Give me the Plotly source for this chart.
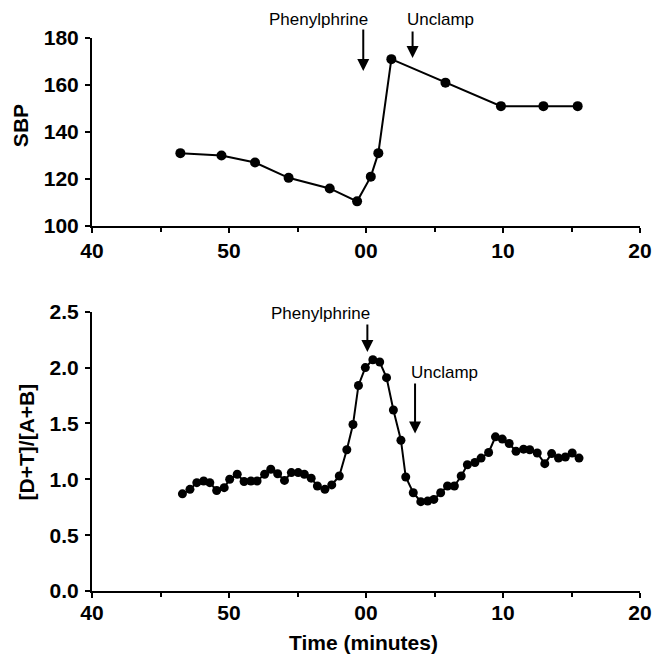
import plotly.graph_objects as go

# ---- data ----
sbp_time = [-13.55, -10.55, -8.1, -5.65, -2.65, -0.65, 0.35, 0.9, 1.85, 5.8, 9.85, 12.95, 15.45]
sbp_values = [131, 130, 127, 120.5, 116, 110.5, 121, 131, 171, 161, 151, 151, 151]

ratio_time = [-13.4, -12.85, -12.35, -11.85, -11.4, -10.9, -10.35, -9.95, -9.4, -8.9,
              -8.4, -7.95, -7.4, -6.95, -6.45, -5.95, -5.45, -4.95, -4.5, -4.0,
              -3.55, -3.0, -2.5, -1.95, -1.4, -0.95, -0.55, -0.05, 0.5, 1.0,
              1.5, 2.0, 2.55, 2.9, 3.45, 4.0, 4.5, 4.95, 5.45, 5.95,
              6.45, 6.95, 7.4, 7.95, 8.4, 8.95, 9.45, 9.95, 10.45, 10.95,
              11.5, 11.95, 12.5, 13.05, 13.55, 14.05, 14.55, 15.05, 15.55]
ratio_values = [0.87, 0.91, 0.97, 0.985, 0.97, 0.90, 0.925, 1.00, 1.045, 0.98,
                0.985, 0.985, 1.045, 1.09, 1.05, 0.99, 1.06, 1.06, 1.045, 1.01,
                0.94, 0.91, 0.95, 1.03, 1.265, 1.49, 1.84, 2.00, 2.07, 2.05,
                1.91, 1.62, 1.35, 1.02, 0.88, 0.80, 0.805, 0.82, 0.88, 0.94,
                0.94, 1.03, 1.13, 1.15, 1.19, 1.24, 1.38, 1.36, 1.32, 1.25,
                1.27, 1.265, 1.235, 1.14, 1.23, 1.19, 1.20, 1.235, 1.19]

x_tickvals = [-20, -10, 0, 10, 20]
x_ticktext = ["40", "50", "00", "10", "20"]
sbp_ticks = [100, 120, 140, 160, 180]
ratio_ticks = [0.0, 0.5, 1.0, 1.5, 2.0, 2.5]

FONT = "Liberation Sans, Arial, Helvetica, sans-serif"

fig = go.Figure()
fig.add_trace(go.Scatter(x=sbp_time, y=sbp_values, mode="lines+markers",
                         line=dict(color="black", width=2),
                         marker=dict(color="black", size=10),
                         xaxis="x", yaxis="y", showlegend=False, cliponaxis=False))
fig.add_trace(go.Scatter(x=ratio_time, y=ratio_values, mode="lines+markers",
                         line=dict(color="black", width=2),
                         marker=dict(color="black", size=9),
                         xaxis="x2", yaxis="y2", showlegend=False, cliponaxis=False))

axis_common = dict(showgrid=False, zeroline=False, showline=True, linecolor="black",
                   linewidth=2, ticks="outside", ticklen=5, tickwidth=1.5,
                   tickcolor="black",
                   tickfont=dict(family=FONT, size=21, color="black", weight="bold"))

xcommon = dict(axis_common, range=[-20, 20], tickvals=x_tickvals, ticktext=x_ticktext,
               minor=dict(tickvals=[-15, -5, 5, 15], ticks="outside", ticklen=4,
                          tickwidth=1.5, tickcolor="black"))

fig.update_layout(
    width=654, height=655,
    margin=dict(l=92, r=14, t=38, b=64, autoexpand=False),
    paper_bgcolor="white", plot_bgcolor="white",
    xaxis=dict(xcommon, domain=[0, 1], anchor="y", ticklabelstandoff=0, automargin=False),
    yaxis=dict(axis_common, domain=[0.66, 1.0], range=[100, 180], tickvals=sbp_ticks,
               anchor="x", ticklabelstandoff=2, automargin=False),
    xaxis2=dict(xcommon, domain=[0, 1], anchor="y2", ticklabelstandoff=-3, automargin=False),
    yaxis2=dict(axis_common, domain=[0.0, 0.505], range=[0, 2.5], tickvals=ratio_ticks,
                tickformat=".1f", anchor="x2", ticklabelstandoff=2, automargin=False),
)

ann = []
lab = dict(family=FONT, size=17, color="black")
# top panel labels (paper coords: top of plot area = 1) + arrows
ann.append(dict(x=0.3, y=1, yshift=19, xref="x", yref="paper", text="Phenylphrine",
                showarrow=False, xanchor="right", yanchor="middle", font=lab))
ann.append(dict(x=2.85, y=1, yshift=19, xref="x", yref="paper", text="Unclamp",
                showarrow=False, xanchor="left", yanchor="middle", font=lab))
ann.append(dict(x=-0.2, y=166, ax=-0.2, ay=184.3, xref="x", yref="y", axref="x", ayref="y",
                text="", showarrow=True, arrowhead=2, arrowwidth=2, arrowsize=1.2,
                arrowcolor="black"))
ann.append(dict(x=3.4, y=171.5, ax=3.4, ay=183.4, xref="x", yref="y", axref="x", ayref="y",
                text="", showarrow=True, arrowhead=2, arrowwidth=2, arrowsize=1.2,
                arrowcolor="black"))
# bottom panel labels + arrows
ann.append(dict(x=0.44, y=2.48, xref="x2", yref="y2", text="Phenylphrine", showarrow=False,
                xanchor="right", yanchor="middle", font=lab))
ann.append(dict(x=3.14, y=1.955, xref="x2", yref="y2", text="Unclamp", showarrow=False,
                xanchor="left", yanchor="middle", font=lab))
ann.append(dict(x=0.1, y=2.14, ax=0.1, ay=2.40, xref="x2", yref="y2", axref="x2", ayref="y2",
                text="", showarrow=True, arrowhead=2, arrowwidth=2, arrowsize=1.2,
                arrowcolor="black"))
ann.append(dict(x=3.58, y=1.41, ax=3.58, ay=1.87, xref="x2", yref="y2", axref="x2", ayref="y2",
                text="", showarrow=True, arrowhead=2, arrowwidth=2, arrowsize=1.2,
                arrowcolor="black"))
# axis titles
title_font = dict(family=FONT, size=21, color="black")
ann.append(dict(x=0, xshift=-72, y=142.5, xref="paper", yref="y", text="<b>SBP</b>",
                textangle=-90, showarrow=False, xanchor="center", yanchor="middle",
                font=title_font))
ann.append(dict(x=0, xshift=-66, y=1.33, xref="paper", yref="y2", text="<b>[D+T]/[A+B]</b>",
                textangle=-90, showarrow=False, xanchor="center", yanchor="middle",
                font=title_font))
ann.append(dict(x=-0.2, y=0, yshift=-51, xref="x2", yref="paper", text="<b>Time (minutes)</b>",
                showarrow=False, xanchor="center", yanchor="middle", font=title_font))
fig.update_layout(annotations=ann)

# remove the default 8px page margin so the figure fills the window exactly
page_fix = "document.body.style.margin='0';document.body.style.overflow='hidden';"
fig.write_html("out.html", post_script=page_fix, config={"displayModeBar": False})
